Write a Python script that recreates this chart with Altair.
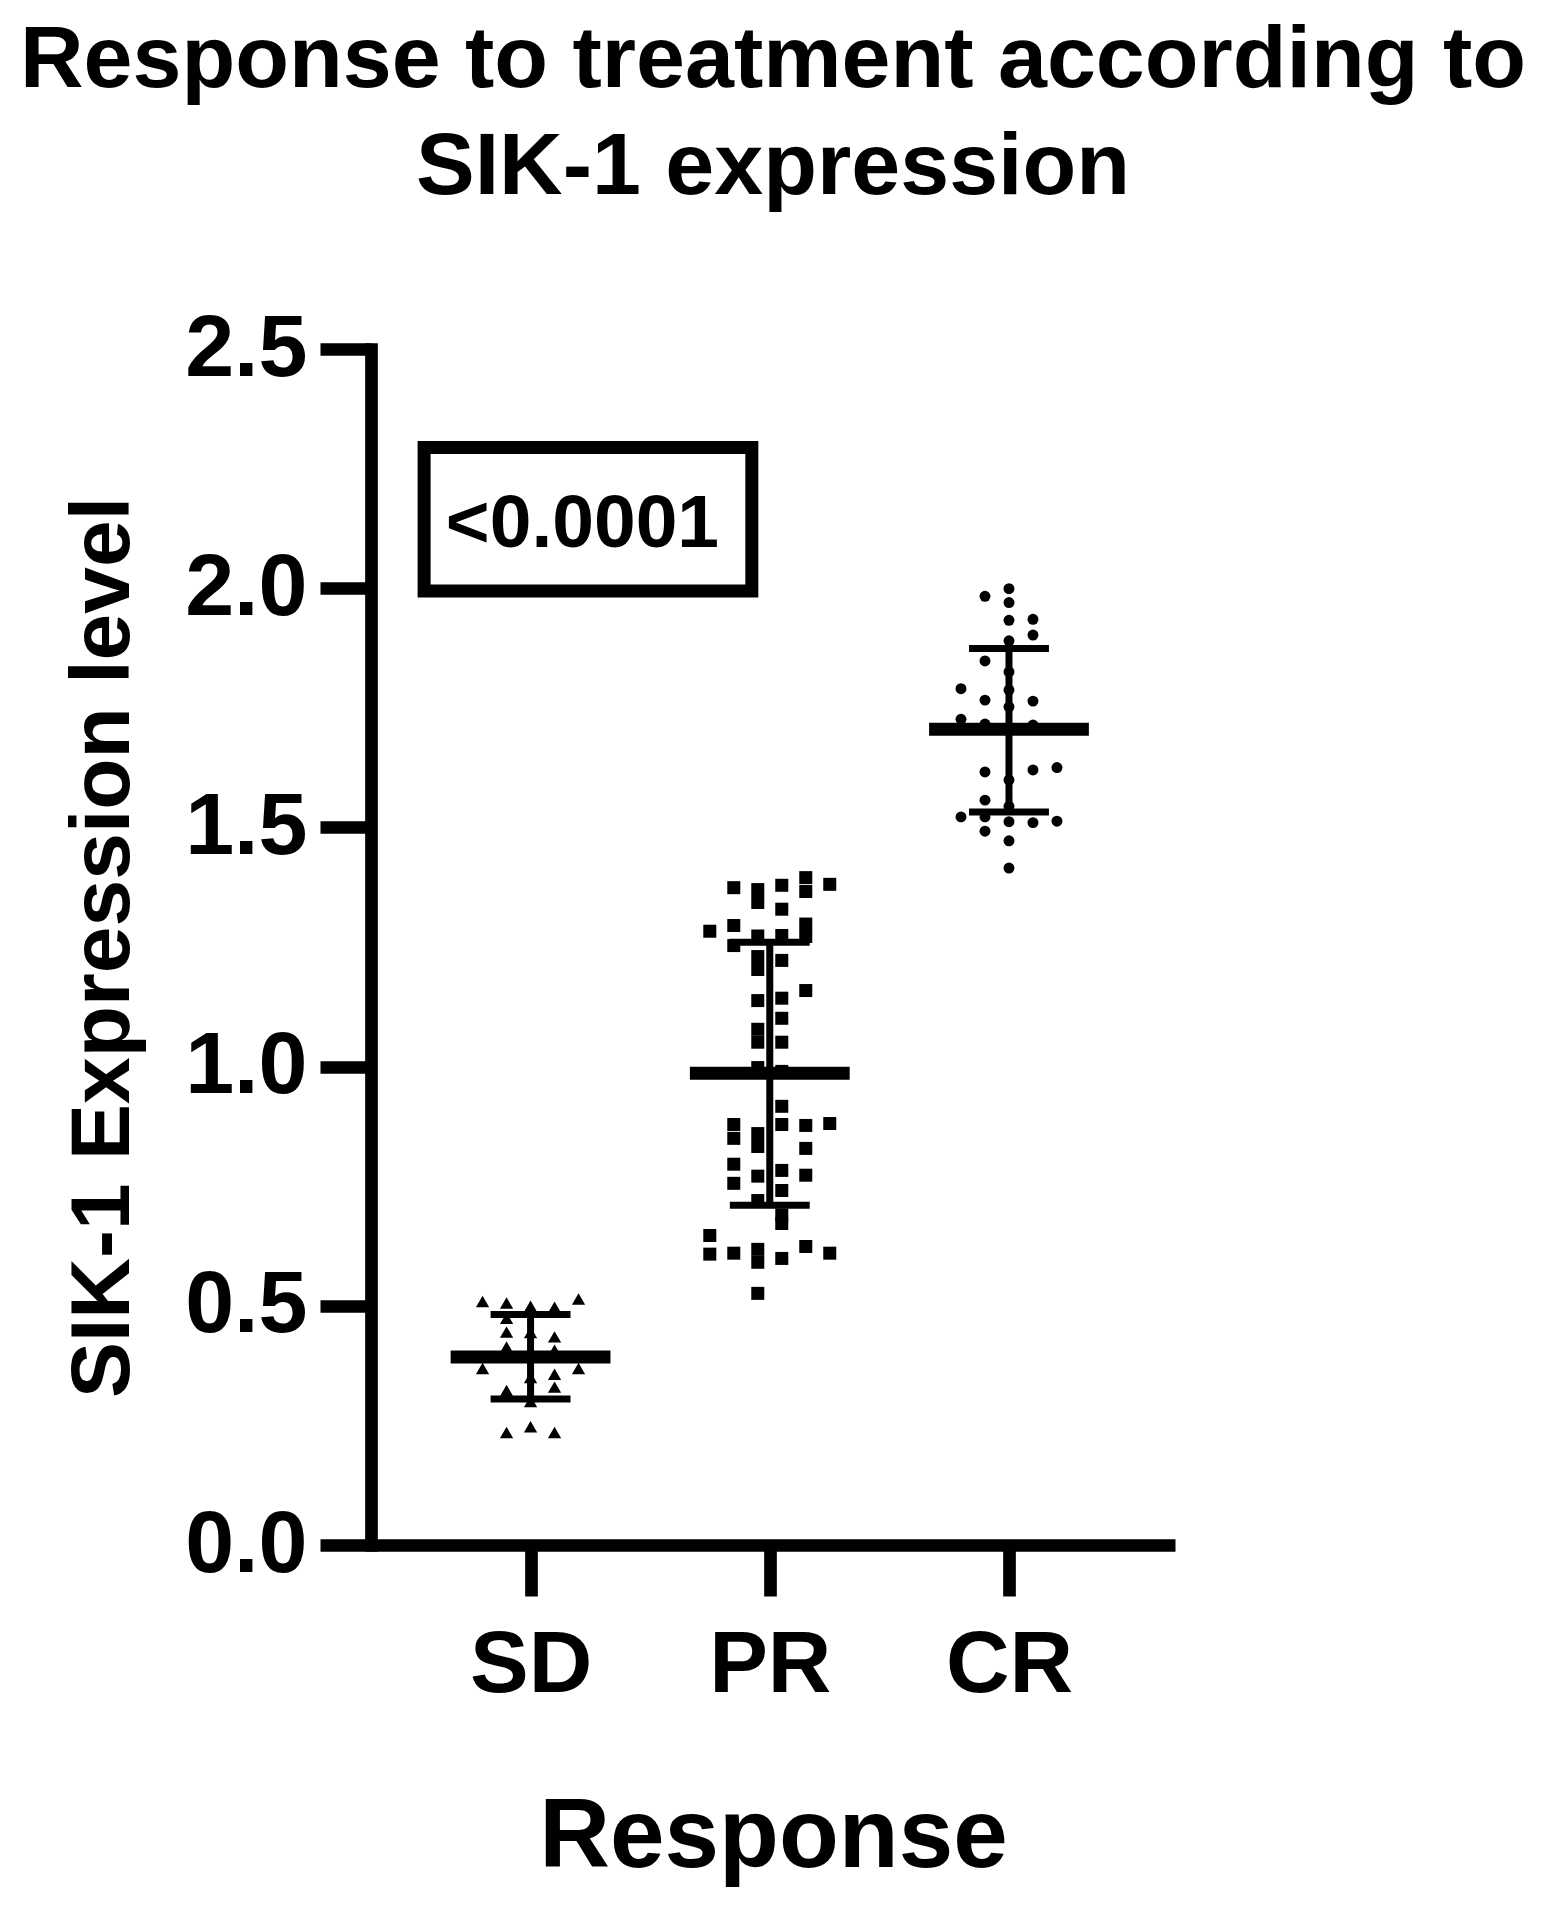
import altair as alt
import pandas as pd

# ---------------- data ----------------
groups = ["SD", "PR", "CR"]

# SD (triangles): column offset (in jitter columns) and value
sd_cols = [-2, -1, 0, 1, 2, -1, -1, 0, 1, -1, 1, -2, 2, 0, 1, 1, -1, 0, -1, 0, 1]
sd_vals = [0.509, 0.506, 0.499, 0.497, 0.514, 0.474, 0.445, 0.444, 0.435, 0.414, 0.407,
           0.369, 0.369, 0.350, 0.357, 0.330, 0.323, 0.300, 0.235, 0.247, 0.235]

# PR (squares)
pr_cols = [-1.5, -0.5, -0.5, 0.5, 1.5, 1.5, 2.5, 0.5,
           -2.5, -1.5, -1.5, -0.5, 0.5, 1.5, 1.5,
           -0.5, -0.5, 0.5, 1.5, -0.5, 0.5, 0.5,
           -0.5, -0.5, 0.5, -0.5, 0.5, 0.5,
           -1.5, -1.5, 0.5, 1.5, 2.5, -0.5, -0.5, 1.5,
           -1.5, -1.5, -0.5, 0.5, 1.5, 0.5, -0.5,
           0.5, 0.5, -2.5, -2.5, -1.5, -0.5, -0.5, 0.5, 1.5, 2.5, -0.5]
pr_vals = [1.374, 1.370, 1.343, 1.379, 1.395, 1.366, 1.381, 1.329,
           1.283, 1.295, 1.253, 1.273, 1.274, 1.298, 1.272,
           1.230, 1.203, 1.222, 1.159, 1.138, 1.143, 1.101,
           1.078, 1.051, 1.051, 0.998, 0.990, 0.917,
           0.879, 0.850, 0.879, 0.877, 0.881, 0.860, 0.833, 0.829,
           0.796, 0.756, 0.771, 0.783, 0.773, 0.741, 0.720,
           0.690, 0.672, 0.647, 0.608, 0.610, 0.618, 0.591, 0.599, 0.624, 0.610, 0.526]

# CR (circles)
cr_cols = [0, -1, 0, 0, 1, 1, 0,
           -1, 0, -2, 0, -1, 1, 0,
           -2, -1, 1,
           -1, 1, 2, 0, -1, 0,
           -2, -1, 0, 1, 2, -1, 0, 0]
cr_vals = [1.999, 1.983, 1.970, 1.933, 1.935, 1.902, 1.890,
           1.848, 1.825, 1.790, 1.787, 1.766, 1.764, 1.752,
           1.726, 1.716, 1.714,
           1.616, 1.620, 1.625, 1.599, 1.557, 1.544,
           1.522, 1.522, 1.512, 1.510, 1.513, 1.492, 1.472, 1.415]

means = [0.393, 0.986, 1.705]
sd_high = [0.482, 1.260, 1.874]
sd_low = [0.305, 0.710, 1.532]

p_label = "<0.0001"

y_ticks = [0.0, 0.5, 1.0, 1.5, 2.0, 2.5]

# ---------------- geometry / style constants ----------------
COL_W = 0.1003      # width of one jitter column in x units
MEAN_HALF = 0.334   # half width of mean bar
CAP_HALF = 0.167    # half width of SD caps
FONT = "Liberation Sans"

def pts(cols, vals, gi):
    return pd.DataFrame({"x": [gi + c * COL_W for c in cols], "v": vals,
                         "group": groups[gi]})

df_sd = pts(sd_cols, sd_vals, 0)
df_pr = pts(pr_cols, pr_vals, 1)
df_cr = pts(cr_cols, cr_vals, 2)

stats = pd.DataFrame({
    "gi": [0, 1, 2], "mean": means, "hi": sd_high, "lo": sd_low,
})
stats["m1"] = stats["gi"] - MEAN_HALF
stats["m2"] = stats["gi"] + MEAN_HALF
stats["c1"] = stats["gi"] - CAP_HALF
stats["c2"] = stats["gi"] + CAP_HALF

box = pd.DataFrame({"x1": [-0.445], "x2": [0.925], "y1": [2.294], "y2": [1.994],
                    "tx": [0.217], "ty": [2.134], "label": [p_label]})

xscale = alt.Scale(domain=[-0.667, 2.694], nice=False, zero=False)
yscale = alt.Scale(domain=[0, 2.5], nice=False)

x_axis = alt.Axis(
    values=[0, 1, 2], grid=False,
    labelExpr="datum.value == 0 ? 'SD' : datum.value == 1 ? 'PR' : 'CR'",
    title="Response", titleFontSize=98, titleFont=FONT, titleFontWeight="bold",
    titlePadding=80, titleColor="black",
    labelFontSize=88, labelFont=FONT, labelFontWeight="bold", labelPadding=25,
    labelColor="black",
    tickSize=51, tickWidth=12.7, tickColor="black",
    domainWidth=12.7, domainColor="black", labelFlush=False,
    labelOverlap=False,
)
y_axis = alt.Axis(
    values=y_ticks, format=".1f", grid=False,
    title="SIK-1 Expression level", titleFontSize=84, titleFont=FONT,
    titleFontWeight="bold", titlePadding=38, titleColor="black",
    labelFontSize=88, labelFont=FONT, labelFontWeight="bold", labelPadding=13,
    labelColor="black",
    tickSize=51, tickWidth=12.7, tickColor="black",
    domainWidth=12.7, domainColor="black", domainCap="square",
    labelFlush=False, labelOverlap=False,
)

base_x = alt.X("x:Q", scale=xscale, axis=x_axis)
base_y = alt.Y("v:Q", scale=yscale, axis=y_axis)

tri = alt.Chart(df_sd).mark_point(shape="triangle-up", filled=True, color="black",
                                  size=175, opacity=1).encode(x=base_x, y=base_y)
sq = alt.Chart(df_pr).mark_point(shape="square", filled=True, color="black",
                                 size=169, opacity=1).encode(x="x:Q", y="v:Q")
circ = alt.Chart(df_cr).mark_point(shape="circle", filled=True, color="black",
                                   size=120, opacity=1).encode(x="x:Q", y="v:Q")

sbase = alt.Chart(stats)
vline = sbase.mark_rule(color="black", strokeWidth=7).encode(
    x="gi:Q", y="lo:Q", y2="hi:Q")
cap_hi = sbase.mark_rule(color="black", strokeWidth=7).encode(
    x="c1:Q", x2="c2:Q", y="hi:Q")
cap_lo = sbase.mark_rule(color="black", strokeWidth=7).encode(
    x="c1:Q", x2="c2:Q", y="lo:Q")
mean_bar = sbase.mark_rule(color="black", strokeWidth=13).encode(
    x="m1:Q", x2="m2:Q", y="mean:Q")

bbase = alt.Chart(box)
rect = bbase.mark_rect(fillOpacity=0, stroke="black", strokeWidth=13).encode(
    x="x1:Q", x2="x2:Q", y="y1:Q", y2="y2:Q")
ptext = bbase.mark_text(font=FONT, fontWeight="bold", fontSize=75, color="black",
                        align="center", baseline="middle").encode(
    x="tx:Q", y="ty:Q", text="label:N")

chart = alt.layer(tri, sq, circ, vline, cap_hi, cap_lo, mean_bar, rect, ptext).properties(
    width=804, height=1196,
    title=alt.TitleParams(
        text=["Response to treatment according to", "SIK-1 expression"],
        font=FONT, fontSize=88, fontWeight="bold", color="black",
        anchor="middle", lineHeight=107, offset=93,
    ),
    padding={"left": 363, "top": 341, "right": 361, "bottom": 361},
    autosize="none",
    background="white",
).configure_view(stroke=None).configure_axis(grid=False)

chart.save("out.html", embed_options={"renderer": "svg", "actions": False})
